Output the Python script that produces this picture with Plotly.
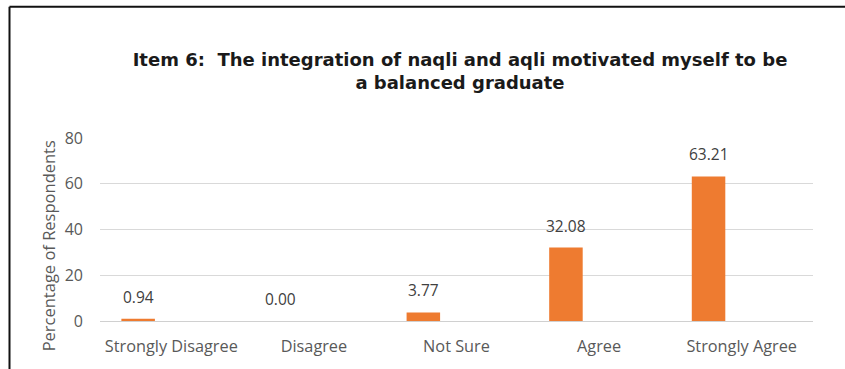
import plotly.graph_objects as go

# Survey responses for Item 6 (percentage of respondents)
categories = ["Strongly Disagree", "Disagree", "Not Sure", "Agree", "Strongly Agree"]
percentages = [0.94, 0.00, 3.77, 32.08, 63.21]
y_ticks = [0, 20, 40, 60, 80]

title_text = ("Item 6:  The integration of naqli and aqli motivated myself to be"
              "<br>a balanced graduate")
y_title = "Percentage of Respondents"

BAR_COLOR = "#EE7B30"
TEXT_GRAY = "#595959"
LABEL_FONT = "Open Sans"

# bars sit at the left third of each category slot
bar_offset = -0.35
bar_width = 0.235

fig = go.Figure()
fig.add_trace(go.Bar(
    x=categories,
    y=percentages,
    offset=bar_offset,
    width=bar_width,
    marker=dict(color=BAR_COLOR, line=dict(width=0)),
    hoverinfo="x+y",
    showlegend=False,
))

# value labels floating above each bar
for i, v in enumerate(percentages):
    fig.add_annotation(
        x=i + bar_offset + bar_width / 2,
        y=v,
        xref="x", yref="y",
        text=f"{v:.2f}",
        showarrow=False,
        yanchor="middle",
        yshift=22,
        font=dict(family=LABEL_FONT, size=15.5, color="#404040"),
    )

# vertical axis title, sitting slightly below the plot's midline
fig.add_annotation(
    x=(48 - 100) / 713,
    y=(322.7 - 247.5) / 184.4,
    xref="paper", yref="paper",
    text=y_title,
    textangle=-90,
    showarrow=False,
    xanchor="center",
    yanchor="middle",
    font=dict(family=LABEL_FONT, size=16.5, color=TEXT_GRAY),
)

# outer frame (top and left edges)
frame_left = (9.5 - 100) / 713
frame_top = (322.7 - 6) / 184.4
fig.add_shape(type="line", xref="paper", yref="paper",
              x0=frame_left, x1=frame_left, y0=frame_top, y1=-0.4,
              line=dict(color="#111111", width=2))
fig.add_shape(type="line", xref="paper", yref="paper",
              x0=frame_left, x1=1.1, y0=frame_top, y1=frame_top,
              line=dict(color="#111111", width=2))

fig.update_layout(
    width=845,
    height=369,
    margin=dict(l=100, r=32, t=138, b=46),
    paper_bgcolor="white",
    plot_bgcolor="white",
    title=dict(
        text=title_text,
        x=460 / 845,
        xanchor="center",
        xref="container",
        y=1 - 66 / 369,
        yanchor="top",
        yref="container",
        font=dict(family="DejaVu Sans", size=18, color="#1a1a1a", weight="bold"),
    ),
    xaxis=dict(
        type="category",
        range=[-0.5, 4.5],
        showgrid=False,
        showline=False,
        zeroline=False,
        ticks="",
        ticklabelstandoff=14,
        tickfont=dict(family=LABEL_FONT, size=16.3, color=TEXT_GRAY),
    ),
    yaxis=dict(
        range=[0, 80],
        tickvals=y_ticks,
        showgrid=True,
        gridcolor="#D9D9D9",
        gridwidth=1,
        zeroline=True,
        zerolinecolor="#D0D0D0",
        zerolinewidth=1,
        showline=False,
        ticks="",
        ticklabelstandoff=16,
        tickfont=dict(family=LABEL_FONT, size=16, color=TEXT_GRAY),
    ),
)

fig.write_html("out.html")
